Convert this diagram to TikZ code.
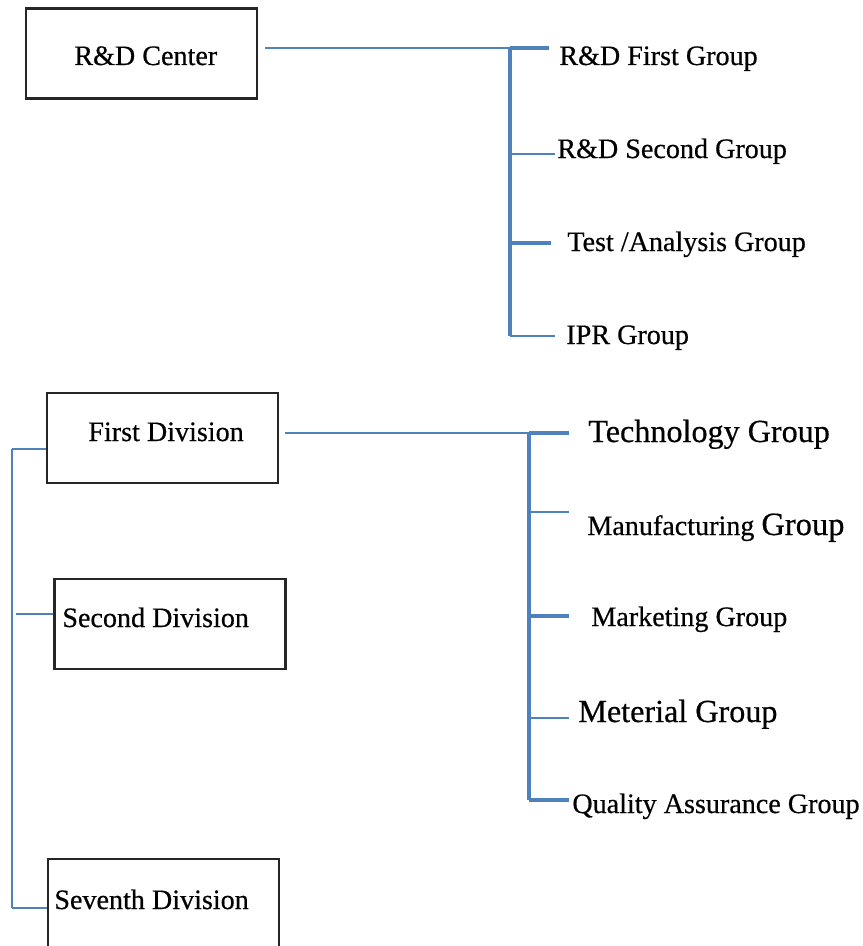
\documentclass[tikz,border=0pt]{standalone}
\usepackage{fontspec}
\setmainfont{Liberation Serif}[FakeBold=0.5]
\usetikzlibrary{positioning, calc}
\definecolor{lineBlue}{RGB}{79, 129, 189}
\begin{document}
\begin{tikzpicture}[
    x=0.02cm, y=-0.02cm,
    unit/.style={rectangle, draw=black!85, line width=1.6pt, inner sep=0pt,
                 minimum width=4.62cm, minimum height=1.8cm},
    txt/.style={inner sep=0pt, anchor=base west, font=\fontsize{16}{18}\selectfont},
    bigtxt/.style={txt, font=\fontsize{18.3}{21}\selectfont},
    link/.style={lineBlue, line width=1.1pt},
    bar/.style={lineBlue, line width=1.8pt},
  ]
    \useasboundingbox (0,0) rectangle (862,946);
    \clip (0,0) rectangle (862,946);

    % R&D Center
    \node[unit] (RD) at (141.5,53.5) {};
    \node[txt] (RDt) at (74,65) {R\&D Center};
    \coordinate (RDout) at (265,48);
    \coordinate (RDtop) at (510,48);
    \coordinate (RDbot) at (510,336);
    \draw[link] (RDout) -- (RDtop);
    \draw[bar] (RDtop) -- (RDbot);

    \foreach \name/\yy/\ex/\w/\tx/\base/\label in {
        G1/48/549/1.8/559/65/{R\&D First Group},
        G2/154/555/1.1/557/158/{R\&D Second Group},
        G3/243/551/1.8/567/251/{Test /Analysis Group},
        G4/336/555/1.1/566/344/{IPR Group}} {
      \coordinate (\name s) at (510,\yy);
      \coordinate (\name e) at (\ex,\yy);
      \draw[lineBlue, line width=\w pt] (\name s) -- (\name e);
      \node[txt] (\name) at (\tx,\base) {\label};
    }

    % Divisions
    \node[unit] (D1) at (162.5,438) {};
    \node[txt] (D1t) at (88,441) {First Division};
    \node[unit] (D2) at (170,624) {};
    \node[txt] (D2t) at (62,627) {Second Division};
    \node[unit] (D7) at (163.5,904) {};
    \node[txt] (D7t) at (54,909) {Seventh Division};

    \coordinate (BUStop) at (12,449);
    \coordinate (BUSbot) at (12,908);
    \draw[link] (BUStop) -- (BUSbot);
    \draw[link] (BUStop) -- (BUStop -| D1.west);
    \draw[link] (16,614) coordinate (B2) -- (B2 -| D2.west);
    \draw[link] (BUSbot) -- (BUSbot -| D7.west);

    % First Division groups
    \coordinate (D1out) at (285,433);
    \coordinate (D1top) at (529,433);
    \coordinate (D1bot) at (529,800);
    \draw[link] (D1out) -- (D1top);
    \draw[bar] (D1top) -- (D1bot);

    \foreach \name/\yy/\w in {H1/433/1.8, H2/512/1.1, H3/616/1.8, H4/718/1.1, H5/800/1.8} {
      \coordinate (\name s) at (529,\yy);
      \coordinate (\name e) at (569,\yy);
      \draw[lineBlue, line width=\w pt] (\name s) -- (\name e);
    }
    \node[bigtxt] (H1) at (588,442) {Technology Group};
    \node[txt] (H2) at (587,535) {Manufacturing {\fontsize{18.5}{21}\selectfont Group}};
    \node[txt] (H3) at (591,626) {Marketing Group};
    \node[bigtxt] (H4) at (578,722) {Meterial Group};
    \node[txt] (H5) at (572,813) {Quality Assurance Group};
  \end{tikzpicture}
\end{document}
